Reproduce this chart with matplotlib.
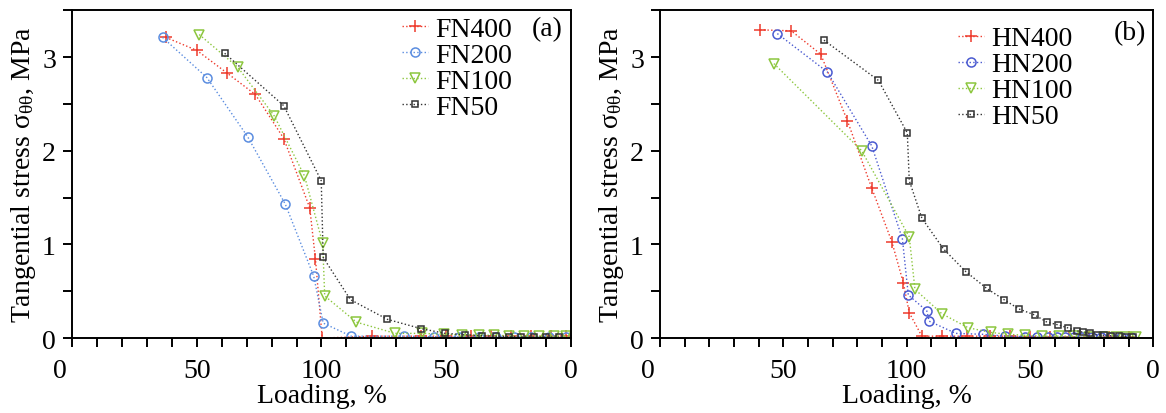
import matplotlib
matplotlib.use("Agg")
import matplotlib.pyplot as plt
import matplotlib.transforms as mtransforms
from matplotlib.ticker import MultipleLocator, FixedLocator

plt.rcParams["font.family"] = ["Liberation Serif", "DejaVu Serif"]
plt.rcParams["mathtext.fontset"] = "stix"
plt.rcParams["mathtext.default"] = "regular"

# --- data: loading 0..100 then unloading 100..0 (plotted as 0..200) ---
fn400_x = [37.6, 50.1, 62.1, 73.5, 84.9, 95.3, 97.6, 100.3, 120.3, 140, 150, 160, 168, 176, 184, 192, 198]
fn400_y = [3.21, 3.07, 2.83, 2.60, 2.13, 1.39, 0.84, 0.0, 0.02, 0.02, 0.02, 0.02, 0.02, 0.02, 0.02, 0.02, 0.02]
fn200_x = [36.3, 54.1, 70.4, 85.5, 96.9, 100.7, 111.9, 133, 145, 155, 163, 170, 177, 184, 191, 198]
fn200_y = [3.21, 2.78, 2.15, 1.43, 0.66, 0.16, 0.02, 0.02, 0.015, 0.015, 0.01, 0.01, 0.01, 0.01, 0.01, 0.01]
fn100_x = [51, 66.5, 81.1, 93.2, 100.5, 101.3, 114, 129.5, 140.4, 149, 156.5, 163, 169, 175, 181, 187, 193, 198]
fn100_y = [3.24, 2.89, 2.37, 1.73, 1.01, 0.45, 0.17, 0.05, 0.05, 0.04, 0.035, 0.03, 0.03, 0.025, 0.02, 0.02, 0.02, 0.02]
fn50_x = [61.2, 84.9, 99.9, 100.7, 111.6, 126.4, 140, 149.6, 157.7, 164.4, 170, 175, 180, 185, 190, 195]
fn50_y = [3.04, 2.48, 1.68, 0.86, 0.41, 0.20, 0.10, 0.05, 0.035, 0.025, 0.02, 0.015, 0.012, 0.01, 0.01, 0.01]

hn400_x = [40.6, 53.2, 65.2, 76.0, 85.9, 94.0, 98.7, 101.1, 106.2, 114.3, 124.4, 134, 142, 150, 158, 166, 174, 182, 190]
hn400_y = [3.29, 3.28, 3.03, 2.32, 1.60, 1.03, 0.59, 0.27, 0.02, 0.02, 0.02, 0.02, 0.02, 0.015, 0.015, 0.01, 0.01, 0.01, 0.01]
hn200_x = [47.6, 67.9, 85.9, 98.3, 100.7, 108.2, 109.2, 120, 130.9, 140, 148, 153, 157.5, 161, 164.3, 167.7, 171, 175, 179, 183, 187, 191]
hn200_y = [3.25, 2.84, 2.05, 1.06, 0.46, 0.29, 0.18, 0.05, 0.04, 0.02, 0.015, 0.01, 0.01, 0.01, 0.01, 0.01, 0.01, 0.01, 0.01, 0.01, 0.01, 0.01]
hn100_x = [46.2, 81.8, 101.1, 103.4, 114.3, 125, 134.2, 141, 148, 155, 162, 168, 174, 180, 185, 189, 193]
hn100_y = [2.93, 2.0, 1.08, 0.52, 0.26, 0.11, 0.06, 0.04, 0.03, 0.02, 0.02, 0.02, 0.015, 0.01, 0.01, 0.01, 0.01]
hn50_x = [66.5, 88.6, 100.3, 101.1, 106.2, 115, 124, 132.5, 139.5, 145.6, 152.1, 156.9, 161.6, 165.6, 169,
          171.7, 174.4, 177.2, 180, 183, 186, 189, 192]
hn50_y = [3.18, 2.75, 2.19, 1.68, 1.28, 0.95, 0.71, 0.53, 0.41, 0.31, 0.245, 0.17, 0.14, 0.107, 0.078,
          0.061, 0.05, 0.035, 0.03, 0.025, 0.02, 0.015, 0.01]

tick_pos = [0, 50, 100, 150, 200]
tick_labels = ["0", "50", "100", "50", "0"]

red = "#ee3a2c"
green = "#8cc63e"
black = "#333333"

fig = plt.figure(figsize=(11.66, 4.14), dpi=100)
ax1 = fig.add_axes([0.0617, 0.181, 0.428, 0.792])
ax2 = fig.add_axes([0.566, 0.181, 0.423, 0.792])


def draw(ax, series, tag, legend_anchor, tag_pos, blue):
    colors = [red, blue, green, black]
    markers = ["+", "o", "v", "s"]
    sizes = [8, 6.5, 6.5, 4.5]
    for (x, y, name), c, m, s in zip(series, colors, markers, sizes):
        ax.plot(x, y, linestyle=":", linewidth=1.0, color=c, marker=m, markersize=s,
                markerfacecolor="none", markeredgecolor=c, markeredgewidth=1.1, label=name)
    ax.set_xlim(0, 200)
    ax.set_ylim(0, 3.5)
    ax.xaxis.set_major_locator(FixedLocator(tick_pos))
    ax.set_xticklabels(tick_labels)
    ax.xaxis.set_minor_locator(MultipleLocator(10))
    ax.yaxis.set_major_locator(MultipleLocator(1))
    ax.yaxis.set_minor_locator(MultipleLocator(0.5))
    ax.tick_params(which="both", direction="out", length=6.5, width=1.4, labelsize=20)
    ax.tick_params(axis="x", which="major", pad=8)
    ax.tick_params(axis="y", which="major", pad=5)
    for sp in ax.spines.values():
        sp.set_linewidth(1.4)
    # first x label sits a bit left of its tick, clear of the y "0"
    lab0 = ax.get_xticklabels()[0]
    lab0.set_transform(lab0.get_transform() + mtransforms.ScaledTranslation(-0.12, 0, fig.dpi_scale_trans))
    ax.set_xlabel("Loading, %", fontsize=20, labelpad=0)
    ax.set_ylabel(r"Tangential stress $\sigma_{\theta\theta}$, MPa", fontsize=20, labelpad=3)
    ax.legend(loc="upper left", bbox_to_anchor=legend_anchor, frameon=False, fontsize=20,
              handlelength=0.95, handletextpad=0.25, labelspacing=0.02, borderpad=0,
              borderaxespad=0)
    ax.text(tag_pos[0], tag_pos[1], tag, transform=ax.transAxes, fontsize=20, ha="center", va="center")


draw(ax1, [(fn400_x, fn400_y, "FN400"), (fn200_x, fn200_y, "FN200"),
           (fn100_x, fn100_y, "FN100"), (fn50_x, fn50_y, "FN50")],
     "(a)", (0.661, 0.98), (0.952, 0.943), "#5b8de0")
draw(ax2, [(hn400_x, hn400_y, "HN400"), (hn200_x, hn200_y, "HN200"),
           (hn100_x, hn100_y, "HN100"), (hn50_x, hn50_y, "HN50")],
     "(b)", (0.6045, 0.952), (0.953, 0.933), "#4a5ad0")

fig.savefig("out.png", dpi=100)
